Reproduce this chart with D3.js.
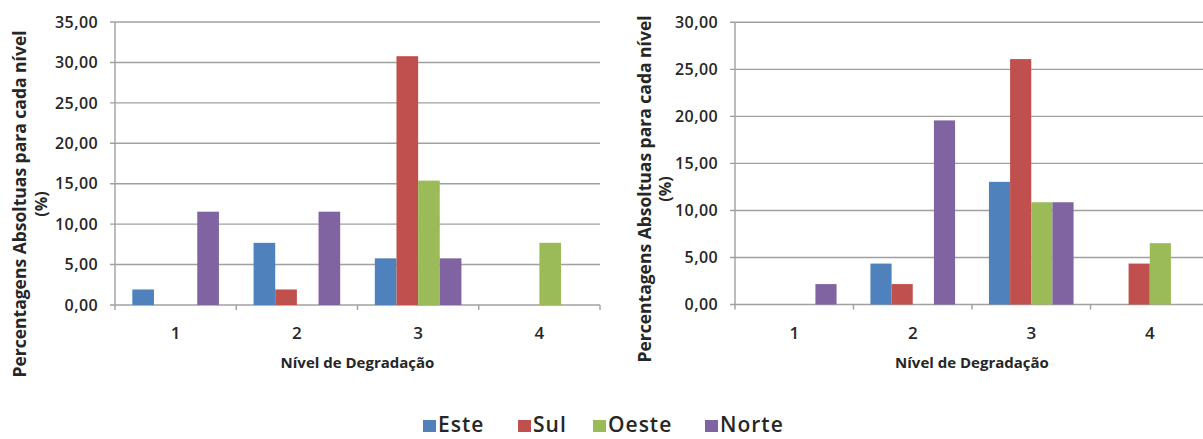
<!DOCTYPE html>
<html>
<head>
<meta charset="utf-8">
<script src="https://cdn.jsdelivr.net/npm/d3@7"></script>
<style>
  html, body { margin: 0; padding: 0; background: #fff; }
  svg { display: block; }
  text { font-family: "Open Sans", "Noto Sans", sans-serif; fill: #262626; }
</style>
</head>
<body>
<svg id="chart" width="1203" height="439"></svg>
<script>
// Degradation levels and the four orientations
const levels = ["1", "2", "3", "4"];
const series = ["Este", "Sul", "Oeste", "Norte"];
const colors = ["#4F81BD", "#C0504D", "#9BBB59", "#8064A2"];

// Left panel: percentage per level, one array per orientation
const leftEste  = [1.92, 7.69, 5.77, 0];
const leftSul   = [0, 1.92, 30.77, 0];
const leftOeste = [0, 0, 15.38, 7.69];
const leftNorte = [11.54, 11.54, 5.77, 0];
const leftTicks = [0, 5, 10, 15, 20, 25, 30, 35];

// Right panel
const rightEste  = [0, 4.35, 13.04, 0];
const rightSul   = [0, 2.17, 26.09, 4.35];
const rightOeste = [0, 0, 10.87, 6.52];
const rightNorte = [2.17, 19.57, 10.87, 0];
const rightTicks = [0, 5, 10, 15, 20, 25, 30];

const yTitle1 = "Percentagens Absoltuas para cada nível";
const yTitle2 = "(%)";
const xTitle = "Nível de Degradação";

const svg = d3.select("#chart");
const fmt = v => d3.format(".2f")(v).replace(".", ",");
const gridColor = "#a0a0a0";

function panel(cfg) {
  const { x0, x1, yBase, yTop, ticks, data, titleX1, titleX2 } = cfg;
  const g = svg.append("g");
  const y = d3.scaleLinear().domain([0, d3.max(ticks)]).range([yBase, yTop]);
  const x = d3.scaleBand().domain(levels).range([x0, x1]).paddingInner(0).paddingOuter(0);
  const xs = d3.scaleBand().domain(series).range([0, x.bandwidth()]).paddingInner(0).paddingOuter(0.8);

  // horizontal gridlines + left tick marks
  g.selectAll("line.grid").data(ticks).join("line")
    .attr("x1", x0 - 5).attr("x2", x1)
    .attr("y1", d => y(d)).attr("y2", d => y(d))
    .attr("stroke", gridColor).attr("stroke-width", 1.4);

  // y axis line
  g.append("line").attr("x1", x0).attr("x2", x0).attr("y1", yTop).attr("y2", yBase)
    .attr("stroke", gridColor).attr("stroke-width", 1.4);

  // y tick labels
  g.selectAll("text.yt").data(ticks).join("text")
    .attr("x", x0 - 17).attr("y", d => y(d)).attr("dy", "0.36em")
    .attr("text-anchor", "end").attr("font-size", 16).attr("font-weight", 600)
    .attr("letter-spacing", 0.4)
    .text(fmt);

  // category separators below the x axis
  const bounds = levels.map(l => x(l)).concat([x1]);
  g.selectAll("line.xt").data(bounds).join("line")
    .attr("x1", d => d).attr("x2", d => d)
    .attr("y1", yBase).attr("y2", yBase + 5)
    .attr("stroke", gridColor).attr("stroke-width", 1.4);

  // bars
  series.forEach((s, si) => {
    g.selectAll(null).data(levels).join("rect")
      .attr("x", l => x(l) + xs(s))
      .attr("width", xs.bandwidth())
      .attr("y", (l, i) => y(data[si][i]))
      .attr("height", (l, i) => yBase - y(data[si][i]))
      .attr("fill", colors[si]);
  });

  // category labels
  g.selectAll("text.xl").data(levels).join("text")
    .attr("x", l => x(l) + x.bandwidth() / 2).attr("y", yBase + 28)
    .attr("dy", "0.36em").attr("text-anchor", "middle")
    .attr("font-size", 17).attr("font-weight", 600)
    .text(d => d);

  // x title
  g.append("text")
    .attr("x", x0 + (x.bandwidth() * 2)).attr("y", yBase + 58)
    .attr("dy", "0.36em").attr("text-anchor", "middle")
    .attr("font-size", 15).attr("font-weight", "bold")
    .text(xTitle);

  // y title (two lines)
  const cy = cfg.titleY;
  g.append("text")
    .attr("transform", `translate(${titleX1},${cy}) rotate(-90)`)
    .attr("dy", "0.36em").attr("text-anchor", "middle")
    .attr("font-size", 17.5).attr("font-weight", "bold")
    .text(yTitle1);
  g.append("text")
    .attr("transform", `translate(${titleX2},${cy}) rotate(-90)`)
    .attr("dy", "0.36em").attr("text-anchor", "middle")
    .attr("font-size", 16).attr("font-weight", "bold")
    .text(yTitle2);
}

panel({
  x0: 115, x1: 600, yBase: 305, yTop: 22, ticks: leftTicks,
  data: [leftEste, leftSul, leftOeste, leftNorte],
  titleX1: 20, titleX2: 41, titleY: 204
});

panel({
  x0: 735, x1: 1209, yBase: 304.5, yTop: 22.3, ticks: rightTicks,
  data: [rightEste, rightSul, rightOeste, rightNorte],
  titleX1: 645, titleX2: 665, titleY: 189
});

// legend
const legendX = [423, 518, 593, 705];
const lg = svg.append("g");
series.forEach((s, i) => {
  lg.append("rect").attr("x", legendX[i]).attr("y", 420).attr("width", 13).attr("height", 12)
    .attr("fill", colors[i]);
  lg.append("text").attr("x", legendX[i] + 15).attr("y", 432)
    .attr("font-size", 21).attr("font-weight", 600).attr("letter-spacing", 1)
    .text(s);
});
</script>
</body>
</html>
